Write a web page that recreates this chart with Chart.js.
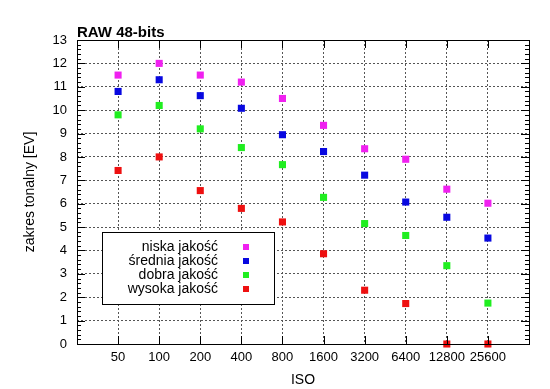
<!DOCTYPE html>
<html>
<head>
<meta charset="utf-8">
<script src="https://cdn.jsdelivr.net/npm/chart.js@4/dist/chart.umd.min.js"></script>
<style>
  html, body { margin: 0; padding: 0; background: #fff; }
  #wrap { width: 550px; height: 389px; }
</style>
</head>
<body>
<div id="wrap"><canvas id="chart" width="550" height="389"></canvas></div>
<script>
// ISO categories on the x axis (positions 1..10)
const isoLabels = ['50', '100', '200', '400', '800', '1600', '3200', '6400', '12800', '25600'];

const seriesNames = ['niska jakość', 'średnia jakość', 'dobra jakość', 'wysoka jakość'];
const seriesColors = ['#f020f0', '#0808e0', '#20ee20', '#ee1010'];

const niska   = [11.5, 12.0, 11.5, 11.2, 10.5, 9.35, 8.35, 7.9, 6.62, 6.02];
const srednia = [10.8, 11.3, 10.62, 10.08, 8.95, 8.23, 7.22, 6.07, 5.42, 4.53];
const dobra   = [9.8, 10.2, 9.2, 8.4, 7.67, 6.27, 5.15, 4.64, 3.35, 1.75];
const wysoka  = [7.42, 8.0, 6.56, 5.8, 5.22, 3.86, 2.3, 1.73, 0, 0];

const allSeries = [niska, srednia, dobra, wysoka];

const FONT = '"Liberation Sans", Arial, sans-serif';

const datasets = allSeries.map((vals, i) => ({
    label: seriesNames[i],
    data: vals.map((v, k) => ({ x: k + 1, y: v })),
    pointStyle: 'rect',
    pointRadius: 5,
    pointHoverRadius: 5,
    backgroundColor: seriesColors[i],
    borderColor: seriesColors[i],
    borderWidth: 0,
    showLine: false,
    clip: false
}));

// inward ticks on all four sides, box border, title and legend box
const decorations = {
    id: 'decorations',
    afterDatasetsDraw(chart) {
        const ctx = chart.ctx;
        const a = chart.chartArea;
        const xs = chart.scales.x, ys = chart.scales.y;
        ctx.save();
        ctx.strokeStyle = '#000';
        ctx.lineWidth = 1;
        ctx.beginPath();
        // y ticks, major every 1, minor every 0.2
        for (let i = 0; i <= 65; i++) {
            const v = i / 5;
            const py = Math.round(ys.getPixelForValue(v)) + 0.5;
            const len = (i % 5 === 0) ? 8 : 4;
            ctx.moveTo(a.left, py); ctx.lineTo(a.left + len, py);
            ctx.moveTo(a.right, py); ctx.lineTo(a.right - len, py);
        }
        // x ticks
        for (let k = 1; k <= isoLabels.length; k++) {
            const px = Math.round(xs.getPixelForValue(k)) + 0.5;
            ctx.moveTo(px, a.bottom); ctx.lineTo(px, a.bottom - 8);
            ctx.moveTo(px, a.top); ctx.lineTo(px, a.top + 8);
        }
        ctx.stroke();
        ctx.strokeRect(Math.round(a.left) + 0.5, Math.round(a.top) + 0.5,
            Math.round(a.right - a.left), Math.round(a.bottom - a.top));

        // title
        ctx.fillStyle = '#000';
        ctx.font = 'bold 15px ' + FONT;
        ctx.textAlign = 'left';
        ctx.textBaseline = 'alphabetic';
        ctx.fillText('RAW 48-bits', a.left, a.top - 3);

        // legend box
        const bx = 102, by = 232, bw = 172, bh = 72;
        ctx.fillStyle = '#fff';
        ctx.fillRect(bx, by, bw, bh);
        ctx.strokeRect(bx + 0.5, by + 0.5, bw, bh);
        ctx.font = '14px ' + FONT;
        ctx.textAlign = 'right';
        ctx.textBaseline = 'middle';
        seriesNames.forEach((name, i) => {
            const ry = 247 + i * 14;
            ctx.fillStyle = '#000';
            ctx.fillText(name, 218, ry);
            ctx.fillStyle = seriesColors[i];
            ctx.fillRect(243, ry - 3, 6, 6);
        });
        ctx.restore();
    }
};

new Chart(document.getElementById('chart'), {
    type: 'scatter',
    data: { datasets: datasets },
    options: {
        responsive: false,
        animation: false,
        events: [],
        layout: { padding: { top: 40, right: 21, left: 0, bottom: 0 } },
        plugins: {
            legend: { display: false },
            tooltip: { enabled: false },
            title: { display: false }
        },
        scales: {
            x: {
                type: 'linear',
                min: 0,
                max: 11,
                afterFit(scale) { scale.height = 45; },
                afterBuildTicks(scale) {
                    scale.ticks = isoLabels.map((l, k) => ({ value: k + 1 }));
                },
                ticks: {
                    color: '#000',
                    font: { family: FONT, size: 13 },
                    padding: 6,
                    maxRotation: 0,
                    autoSkip: false,
                    callback: (v) => isoLabels[v - 1] || ''
                },
                grid: { color: '#555', drawTicks: false, lineWidth: 1 },
                border: { display: false, dash: [2, 2] },
                title: {
                    display: true,
                    text: 'ISO',
                    color: '#000',
                    font: { family: FONT, size: 14 },
                    padding: { top: 8, bottom: 0 }
                }
            },
            y: {
                min: 0,
                max: 13,
                afterFit(scale) { scale.width = 77; },
                ticks: {
                    stepSize: 1,
                    color: '#000',
                    font: { family: FONT, size: 13 },
                    padding: 10
                },
                grid: { color: '#555', drawTicks: false, lineWidth: 1 },
                border: { display: false, dash: [2, 2] },
                title: {
                    display: true,
                    text: 'zakres tonalny [EV]',
                    color: '#000',
                    font: { family: FONT, size: 14 },
                    padding: { top: 22, bottom: 8 }
                }
            }
        }
    },
    plugins: [decorations]
});
</script>
</body>
</html>
